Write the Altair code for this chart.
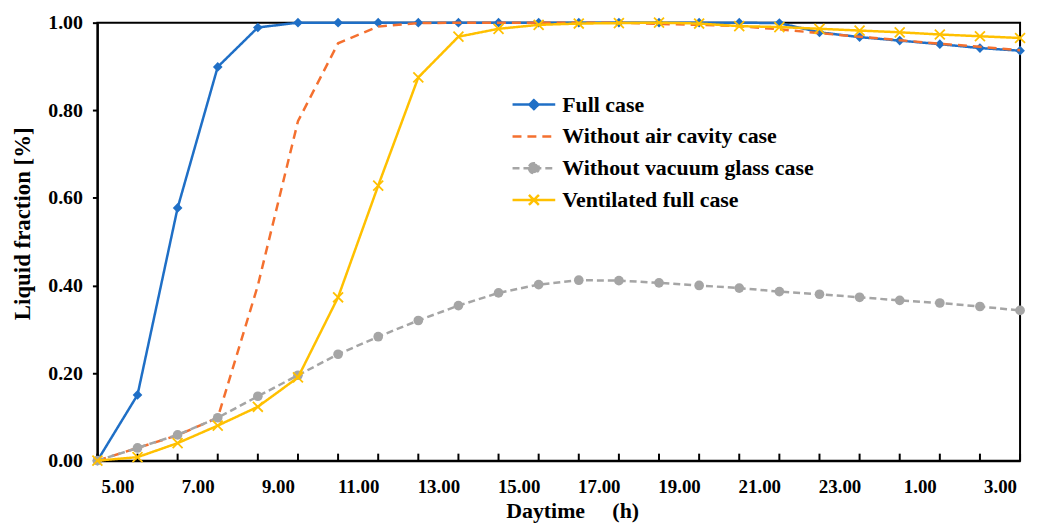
import altair as alt
import pandas as pd

# ---- data ----
point_index = list(range(24))  # hourly samples
x_labels = ["5.00", "7.00", "9.00", "11.00", "13.00", "15.00", "17.00",
            "19.00", "21.00", "23.00", "1.00", "3.00"]
series_names = ["Full case", "Without air cavity case",
                "Without vacuum glass case", "Ventilated full case"]

full_case = [0.000, 0.150, 0.577, 0.899, 0.989, 1.000, 1.000, 1.000, 1.000, 1.000,
             1.000, 1.000, 1.000, 1.000, 1.000, 1.000, 1.000, 0.999, 0.978, 0.967,
             0.959, 0.951, 0.942, 0.936]
without_air_cavity = [0.000, 0.029, 0.058, 0.098, 0.400, 0.775, 0.953, 0.991, 0.999, 1.000,
                      1.000, 1.000, 1.000, 1.000, 0.997, 0.995, 0.992, 0.985, 0.976, 0.968,
                      0.960, 0.952, 0.945, 0.937]
without_vacuum_glass = [0.000, 0.029, 0.059, 0.098, 0.147, 0.195, 0.243, 0.283, 0.320, 0.354,
                        0.383, 0.402, 0.412, 0.411, 0.406, 0.400, 0.394, 0.386, 0.380, 0.373,
                        0.366, 0.360, 0.352, 0.343]
ventilated_full = [0.000, 0.008, 0.040, 0.080, 0.123, 0.190, 0.373, 0.628, 0.875, 0.968,
                   0.986, 0.995, 0.998, 0.999, 1.000, 0.998, 0.992, 0.990, 0.986, 0.982,
                   0.978, 0.973, 0.969, 0.965]

series_values = [full_case, without_air_cavity, without_vacuum_glass, ventilated_full]

# ---- styles ----
PLOT_W = 929
PLOT_H = 441
colors = ["#1F6FC6", "#F4702F", "#A5A5A5", "#FFC000"]
dashes = [[1, 0], [9, 6], [7, 4], [1, 0]]
CROSS = "M-1,-1L1,1M-1,1L1,-1"
markers = ["diamond", None, "circle", CROSS]
marker_filled = [True, None, True, False]
marker_size = [95, None, 95, 100]

legend_paths = [
    "M-2.15,0H2.15M0,-0.45L0.45,0L0,0.45L-0.45,0Z",
    "M-2.15,0H2.15",
    "M-2.15,0H2.15M-0.5,0A0.5,0.5 0 1,0 0.5,0A0.5,0.5 0 1,0 -0.5,0Z",
    "M-2.15,0H2.15M-0.5,-0.5L0.5,0.5M-0.5,0.5L0.5,-0.5",
]

FONT = "Liberation Serif"
NBSP = "\u00a0"

rows = []
for name, vals in zip(series_names, series_values):
    for i, v in zip(point_index, vals):
        rows.append({"idx": i, "value": v, "series": name})
df = pd.DataFrame(rows)
tick_df = pd.DataFrame({"idx": point_index})

label_js = "[" + ",".join("'%s'" % s for s in x_labels) + "]"

x_scale = alt.Scale(domain=[0, 23], nice=False, zero=False)
y_scale = alt.Scale(domain=[0, 1], nice=False)

x_axis = alt.Axis(
    values=list(range(0, 24, 2)),
    labelExpr=label_js + "[datum.value/2]",
    labelOffset=PLOT_W / 23 / 2, labelOverlap=False, labelFlush=False,
    ticks=False, tickSize=0, grid=False,
    domainColor="black", domainWidth=2,
    labelFont=FONT, labelFontSize=19, labelFontWeight="bold", labelColor="black",
    labelPadding=17,
    title="Daytime" + NBSP * 5 + "(h)", titleFont=FONT, titleFontSize=22,
    titleFontWeight="bold", titleColor="black", titlePadding=4, titleX=478,
)
y_axis = alt.Axis(
    values=[0, 0.2, 0.4, 0.6, 0.8, 1.0], format=".2f", grid=False,
    domainColor="black", domainWidth=2, tickColor="black", tickWidth=2, tickSize=5,
    labelFont=FONT, labelFontSize=20, labelFontWeight="bold", labelColor="black",
    labelPadding=10,
    title="Liquid fraction [%]", titleFont=FONT, titleFontSize=23, titleFontWeight="bold",
    titleColor="black", titleX=-63, titleY=202,
)

def make_legend():
    return alt.Legend(
        orient="none", legendX=428, legendY=71, title=None, padding=0,
        rowPadding=9, labelOffset=17, labelLimit=500,
        labelFont=FONT, labelFontSize=22, labelFontWeight="bold", labelColor="black",
        symbolSize=400, symbolStrokeWidth=2.5, symbolOpacity=1,
    )

layers = []
ticks = alt.Chart(tick_df).mark_rule(color="black", strokeWidth=2).encode(
    x=alt.X("idx:Q", scale=x_scale, axis=x_axis),
    y=alt.YDatum(0, scale=y_scale, axis=y_axis),
    y2=alt.Y2Datum(0.016),
)
layers.append(ticks)

for k, name in enumerate(series_names):
    base = alt.Chart(df).transform_filter(alt.datum.series == name)
    line = base.mark_line(strokeWidth=2.5, color=colors[k], strokeDash=dashes[k]).encode(
        x=alt.X("idx:Q", scale=x_scale, axis=x_axis),
        y=alt.Y("value:Q", scale=y_scale, axis=y_axis),
    )
    layers.append(line)
    if markers[k] is not None:
        pt = base.mark_point(
            shape=markers[k], filled=marker_filled[k], size=marker_size[k],
            color=colors[k], opacity=1, strokeWidth=1.8,
        ).encode(
            x=alt.X("idx:Q", scale=x_scale, axis=x_axis),
            y=alt.Y("value:Q", scale=y_scale, axis=y_axis),
        )
        layers.append(pt)

# legend-only layer (zero-size symbols in the plot, full-size in the legend)
legend_layer = alt.Chart(df).mark_point(size=0, strokeWidth=2.5, filled=True).encode(
    x=alt.X("idx:Q", scale=x_scale, axis=x_axis),
    y=alt.Y("value:Q", scale=y_scale, axis=y_axis),
    shape=alt.Shape("series:N", scale=alt.Scale(domain=series_names, range=legend_paths),
                    legend=make_legend()),
    fill=alt.Fill("series:N", scale=alt.Scale(domain=series_names, range=colors),
                  legend=make_legend()),
    stroke=alt.Stroke("series:N", scale=alt.Scale(domain=series_names, range=colors),
                      legend=make_legend()),
    strokeDash=alt.StrokeDash("series:N", scale=alt.Scale(domain=series_names, range=dashes),
                              legend=make_legend()),
)
layers.append(legend_layer)

chart = alt.layer(*layers).properties(
    width=PLOT_W, height=PLOT_H,
    padding={"left": 4, "top": 3, "right": 0, "bottom": 0},
    background="white",
).configure_view(stroke="black", strokeWidth=2)

chart.save("out.html", embed_options={"renderer": "svg", "actions": False})
